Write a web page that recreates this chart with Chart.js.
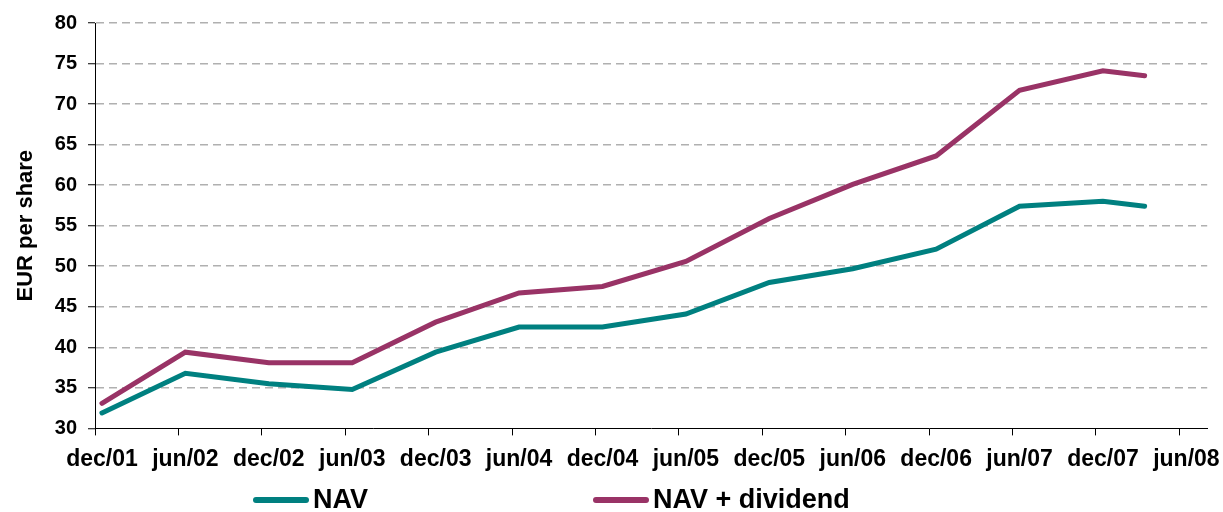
<!DOCTYPE html>
<html>
<head>
<meta charset="utf-8">
<title>NAV per share</title>
<script src="https://cdn.jsdelivr.net/npm/chart.js@4"></script>
<style>
  html,body{margin:0;padding:0;background:#fff;}
  #wrap{width:1223px;height:512px;}
</style>
</head>
<body>
<div id="wrap"><canvas id="navChart" width="1223" height="512"></canvas></div>
<script>
// axis labels, one every 6 months (category = month, dec/01 = 0)
const tickLabels=['dec/01','jun/02','dec/02','jun/03','dec/03','jun/04','dec/04','jun/05','dec/05','jun/06','dec/06','jun/07','dec/07','jun/08'];
// month index of each observation (dec/01 = 0, last one is mar/08)
const months=[0,6,12,18,24,30,36,42,48,54,60,66,72,75];
// EUR per share
const nav=[31.9,36.8,35.5,34.8,39.4,42.5,42.5,44.1,48.0,49.7,52.1,57.4,58.0,57.4];
const navDividend=[33.1,39.4,38.1,38.1,43.1,46.7,47.5,50.6,55.9,60.1,63.6,71.7,74.1,73.5];
const seriesNames=['NAV','NAV + dividend'];
const seriesColors=['#008080','#993366'];

const FONT="'Liberation Sans', Arial, sans-serif";

// points sit in the middle of their month category
const toPoints=vals=>vals.map((v,i)=>({x:months[i]+0.5,y:v}));

// legend under the chart, drawn like the original (long line swatch + bold text)
const lineLegend={
  id:'lineLegend',
  afterDraw(chart,args,opts){
    const ctx=chart.ctx;
    ctx.save();
    ctx.font='bold '+opts.fontSize+'px '+FONT;
    ctx.textBaseline='alphabetic';
    ctx.fillStyle='#000';
    chart.data.datasets.forEach((ds,i)=>{
      const x=opts.xs[i];
      ctx.strokeStyle=ds.borderColor; ctx.lineWidth=6; ctx.lineCap='round';
      ctx.beginPath(); ctx.moveTo(x+3,opts.lineY); ctx.lineTo(x+opts.lineLength-3,opts.lineY); ctx.stroke();
      ctx.fillText(ds.label,x+opts.lineLength+opts.gap,opts.textY);
    });
    ctx.restore();
  }
};

new Chart(document.getElementById('navChart'),{
  type:'line',
  data:{datasets:[
    {label:seriesNames[0],data:toPoints(nav),borderColor:seriesColors[0],backgroundColor:seriesColors[0],
     borderWidth:5,pointRadius:0,tension:0,borderCapStyle:'round',borderJoinStyle:'miter'},
    {label:seriesNames[1],data:toPoints(navDividend),borderColor:seriesColors[1],backgroundColor:seriesColors[1],
     borderWidth:5,pointRadius:0,tension:0,borderCapStyle:'round',borderJoinStyle:'miter'}
  ]},
  options:{
    responsive:false,animation:false,devicePixelRatio:1,
    layout:{padding:{top:22,right:15,bottom:29,left:0}},
    plugins:{
      legend:{display:false},tooltip:{enabled:false},
      lineLegend:{xs:[253,593],lineY:500,textY:508,lineLength:56,gap:4,fontSize:27}
    },
    scales:{
      x:{type:'linear',min:0,max:80,
        border:{display:true,color:'#000',width:1},
        grid:{display:true,drawOnChartArea:false,drawTicks:true,tickLength:7,tickColor:'#000',color:'#000'},
        ticks:{stepSize:6,includeBounds:false,autoSkip:false,maxRotation:0,labelOffset:7,padding:10,
          color:'#000',font:{family:FONT,size:23,weight:'bold'},
          callback:v=>tickLabels[v/6]}
      },
      y:{min:30,max:80,
        afterFit:s=>{s.width=95;},
        border:{display:true,color:'#000',width:1,dash:[8,5]},
        grid:{color:c=>c.tick&&c.tick.value===30?'rgba(0,0,0,0)':'#b0b0b0',lineWidth:1.5,
          tickLength:7,tickColor:'#000',tickBorderDash:[],tickWidth:1},
        ticks:{stepSize:5,padding:11,color:'#000',font:{family:FONT,size:20,weight:'bold'}},
        title:{display:true,text:'EUR per share',color:'#000',padding:{top:13,bottom:0},
          font:{family:FONT,size:22,weight:'bold'}}
      }
    }
  },
  plugins:[lineLegend]
});
</script>
</body>
</html>
